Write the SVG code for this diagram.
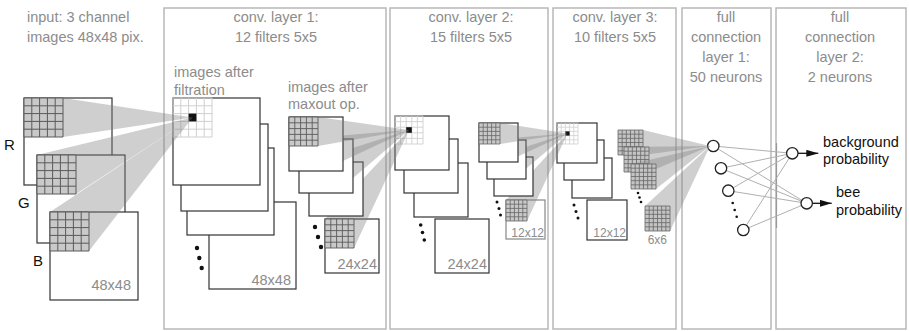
<svg xmlns="http://www.w3.org/2000/svg" width="909" height="331" viewBox="0 0 909 331">
<defs>
<style>
.box{fill:none;stroke:#b8b8b8;stroke-width:1.5}
.t{font-family:"Liberation Sans",Arial,sans-serif;font-size:14.5px;fill:#8c8c8c}
.m{text-anchor:middle}
.e{text-anchor:end}
.k{font-family:"Liberation Sans",Arial,sans-serif;font-size:14.5px;fill:#111}
.s{font-size:12px}
.sq{fill:#fff;stroke:#333;stroke-width:1.2}
.sq2{fill:#fff;stroke:#888;stroke-width:1.2}
.cone{fill:#808080;fill-opacity:.38}
.dot{fill:#111}
.neu{fill:#fff;stroke:#222;stroke-width:1.3}
.fc{stroke:#b0b0b0;stroke-width:1;fill:none}
.arr{stroke:#111;stroke-width:1.3;fill:none;marker-end:url(#ah)}
</style>
<marker id="ah" viewBox="0 0 12 7" refX="12" refY="3.5" markerWidth="12" markerHeight="7" markerUnits="userSpaceOnUse" orient="auto"><path d="M0 0L12 3.5L0 7z" fill="#111"/></marker>
<g id="gIn"><rect width="39" height="39" fill="#c9c9c9"/><path d="M0 0V39M7.8 0V39M15.6 0V39M23.4 0V39M31.2 0V39M39 0V39M0 0H39M0 7.8H39M0 15.6H39M0 23.4H39M0 31.2H39M0 39H39" stroke="#5a5a5a" stroke-width="1" fill="none"/></g>
<g id="gF39"><path d="M0 0V39M7.8 0V39M15.6 0V39M23.4 0V39M31.2 0V39M39 0V39M0 0H39M0 7.8H39M0 15.6H39M0 23.4H39M0 31.2H39M0 39H39" stroke="#cfcfcf" stroke-width="1" fill="none"/><rect x="15.6" y="15.6" width="7.8" height="7.8" fill="#111"/></g>
<g id="gM"><rect width="29" height="29" fill="#c9c9c9"/><path d="M0 0V29M5.8 0V29M11.6 0V29M17.4 0V29M23.2 0V29M29 0V29M0 0H29M0 5.8H29M0 11.6H29M0 17.4H29M0 23.2H29M0 29H29" stroke="#5a5a5a" stroke-width=".9" fill="none"/></g>
<g id="gF28"><path d="M0 0V28M5.6 0V28M11.2 0V28M16.8 0V28M22.4 0V28M28 0V28M0 0H28M0 5.6H28M0 11.2H28M0 16.8H28M0 22.4H28M0 28H28" stroke="#cfcfcf" stroke-width=".9" fill="none"/><rect x="11.2" y="11.2" width="5.6" height="5.6" fill="#111"/></g>
<g id="gS"><rect width="21" height="21" fill="#c9c9c9"/><path d="M0 0V21M4.2 0V21M8.4 0V21M12.6 0V21M16.8 0V21M21 0V21M0 0H21M0 4.2H21M0 8.4H21M0 12.6H21M0 16.8H21M0 21H21" stroke="#666" stroke-width=".8" fill="none"/></g>
<g id="gF21"><path d="M0 0V21M4.2 0V21M8.4 0V21M12.6 0V21M16.8 0V21M21 0V21M0 0H21M0 4.2H21M0 8.4H21M0 12.6H21M0 16.8H21M0 21H21" stroke="#cfcfcf" stroke-width=".8" fill="none"/><rect x="8.4" y="8.4" width="4.2" height="4.2" fill="#111"/></g>
<g id="gG"><rect width="25" height="25" fill="#c4c4c4"/><path d="M0 0V25M4.17 0V25M8.33 0V25M12.5 0V25M16.67 0V25M20.83 0V25M25 0V25M0 0H25M0 4.17H25M0 8.33H25M0 12.5H25M0 16.67H25M0 20.83H25M0 25H25" stroke="#666" stroke-width=".8" fill="none"/></g>
</defs>
<rect width="909" height="331" fill="#fff"/>

<g id="layers">
<rect class="box" x="164" y="8" width="222" height="321"/>
<rect class="box" x="390" y="8" width="158" height="321"/>
<rect class="box" x="553" y="8" width="123" height="321"/>
<rect class="box" x="682" y="8" width="89" height="321"/>
<rect class="box" x="776" y="8" width="130" height="321"/>
<path d="M776.5 143V228" stroke="#999" stroke-width="1.2"/>
<text class="t" x="27" y="21.5">input: 3 channel</text>
<text class="t" x="27" y="41.5">images 48x48 pix.</text>
<text class="t m" x="276" y="21.5">conv. layer 1:</text>
<text class="t m" x="276" y="41.5">12 filters 5x5</text>
<text class="t m" x="471" y="21.5">conv. layer 2:</text>
<text class="t m" x="471" y="41.5">15 filters 5x5</text>
<text class="t m" x="615" y="21.5">conv. layer 3:</text>
<text class="t m" x="615" y="41.5">10 filters 5x5</text>
<text class="t m" x="726" y="21.5">full</text>
<text class="t m" x="726" y="41.5">connection</text>
<text class="t m" x="726" y="61.5">layer 1:</text>
<text class="t m" x="726" y="82">50 neurons</text>
<text class="t m" x="840" y="21.5">full</text>
<text class="t m" x="840" y="41.5">connection</text>
<text class="t m" x="840" y="61.5">layer 2:</text>
<text class="t m" x="840" y="82">2 neurons</text>
</g>

<g id="connectors">
<path class="fc" d="M713.3 146L792.3 153.3M713.3 146L806.7 203.3M721 168.3L792.3 153.3M721 168.3L806.7 203.3M728.3 190.7L792.3 153.3M728.3 190.7L806.7 203.3M743.3 230L792.3 153.3M743.3 230L806.7 203.3"/>
<path class="arr" d="M798 153.3H818.3"/>
<path class="arr" d="M812.4 203.3H831.7"/>
</g>

<g id="fc1">
<circle class="neu" cx="713.3" cy="146" r="5.7"/>
<circle class="neu" cx="721" cy="168.3" r="5.7"/>
<circle class="neu" cx="728.3" cy="190.7" r="5.7"/>
<circle class="neu" cx="743.3" cy="230" r="5.7"/>
<circle class="dot" cx="732.7" cy="203" r="1.3"/>
<circle class="dot" cx="734.7" cy="210" r="1.3"/>
<circle class="dot" cx="736.7" cy="216.7" r="1.3"/>
</g>
<g id="fc2">
<circle class="neu" cx="792.3" cy="153.3" r="5.7"/>
<circle class="neu" cx="806.7" cy="203.3" r="5.7"/>
<text class="k" x="823" y="147">background</text>
<text class="k" x="823" y="164">probability</text>
<text class="k" x="836" y="197">bee</text>
<text class="k" x="836" y="215">probability</text>
</g>

<g id="conv3">
<rect class="sq" x="587" y="200" width="40" height="40"/>
<rect class="sq" x="572" y="158" width="40" height="40"/>
<rect class="sq" x="564" y="140" width="40" height="40"/>
<rect class="sq" x="557" y="123" width="40" height="40"/>
<use href="#gF21" x="557" y="123"/>
<circle class="dot" cx="574" cy="205" r="1.5"/>
<circle class="dot" cx="576" cy="211.5" r="1.5"/>
<circle class="dot" cx="578" cy="218" r="1.5"/>
<text class="t s e" x="626" y="237">12x12</text>
<polygon class="cone" points="643,130 710,146 643,155"/>
<use href="#gG" x="618" y="130"/>
<polygon class="cone" points="624,147 710,146 649,172"/>
<use href="#gG" x="624" y="147"/>
<polygon class="cone" points="631,164 710,146 656,189"/>
<use href="#gG" x="631" y="164"/>
<polygon class="cone" points="645,206 710,146 670,231"/>
<use href="#gG" x="645" y="206"/>
<circle class="dot" cx="638" cy="193" r="1.3"/>
<circle class="dot" cx="639.5" cy="197.5" r="1.3"/>
<circle class="dot" cx="641" cy="202" r="1.3"/>
<text class="t s e" x="667" y="244">6x6</text>
</g>

<g id="conv2">
<rect class="sq" x="435" y="219" width="54" height="54"/>
<rect class="sq" x="414" y="163" width="54" height="54"/>
<rect class="sq" x="404" y="139" width="54" height="54"/>
<rect class="sq" x="395" y="116" width="54" height="54"/>
<use href="#gF28" x="395" y="116"/>
<circle class="dot" cx="420.7" cy="225" r="1.8"/>
<circle class="dot" cx="422.5" cy="232.5" r="1.8"/>
<circle class="dot" cx="424.3" cy="240" r="1.8"/>
<text class="t e" x="487" y="269">24x24</text>
<rect class="sq2" x="506" y="200" width="39" height="39"/>
<polygon class="cone" points="506,200 567.5,133.5 527,221"/>
<use href="#gS" x="506" y="200"/>
<rect class="sq" x="494" y="157" width="39" height="39"/>
<polygon class="cone" points="494,157 567.5,133.5 515,178"/>
<use href="#gS" x="494" y="157"/>
<rect class="sq" x="487" y="140" width="39" height="39"/>
<polygon class="cone" points="487,140 567.5,133.5 508,161"/>
<use href="#gS" x="487" y="140"/>
<rect class="sq" x="479" y="123" width="39" height="39"/>
<polygon class="cone" points="500,123 567.5,133.5 500,144"/>
<use href="#gS" x="479" y="123"/>
<circle class="dot" cx="497" cy="202" r="1.5"/>
<circle class="dot" cx="499" cy="208.5" r="1.5"/>
<circle class="dot" cx="500.5" cy="215" r="1.5"/>
<text class="t s e" x="544" y="237">12x12</text>
</g>

<g id="conv1">
<rect class="sq" x="209" y="202" width="87" height="87"/>
<rect class="sq" x="187" y="148" width="87" height="87"/>
<rect class="sq" x="181" y="124" width="87" height="87"/>
<rect class="sq" x="173" y="98" width="87" height="87"/>
<use href="#gF39" x="173" y="98"/>
<circle class="dot" cx="197" cy="248" r="2.2"/>
<circle class="dot" cx="199.3" cy="258" r="2.2"/>
<circle class="dot" cx="201.7" cy="268" r="2.2"/>
<text class="t e" x="291" y="285">48x48</text>
<text class="t" x="174" y="77">images after</text>
<text class="t" x="174" y="95">filtration</text>
<text class="t" x="288" y="92">images after</text>
<text class="t" x="288" y="109">maxout op.</text>
<rect class="sq" x="325" y="219" width="54" height="54"/>
<polygon class="cone" points="325,219 409,130 354,248"/>
<use href="#gM" x="325" y="219"/>
<rect class="sq" x="309" y="162" width="54" height="54"/>
<polygon class="cone" points="309,162 409,130 338,191"/>
<use href="#gM" x="309" y="162"/>
<rect class="sq" x="299" y="139" width="54" height="54"/>
<polygon class="cone" points="299,139 409,130 328,168"/>
<use href="#gM" x="299" y="139"/>
<rect class="sq" x="289" y="117" width="54" height="54"/>
<polygon class="cone" points="318,117 409,130 318,146"/>
<use href="#gM" x="289" y="117"/>
<circle class="dot" cx="315" cy="227" r="2.2"/>
<circle class="dot" cx="318" cy="237" r="2.2"/>
<circle class="dot" cx="321" cy="247" r="2.2"/>
<text class="t e" x="377" y="269">24x24</text>
</g>

<g id="input">
<rect class="sq" x="24" y="98" width="88" height="87"/>
<polygon class="cone" points="63,98 192.5,117.5 63,137"/>
<use href="#gIn" x="24" y="98"/>
<rect class="sq" x="37" y="155" width="88" height="88"/>
<polygon class="cone" points="37,155 192.5,117.5 76,194"/>
<use href="#gIn" x="37" y="155"/>
<rect class="sq" x="50" y="212" width="88" height="88"/>
<polygon class="cone" points="50,212 192.5,117.5 89,251"/>
<use href="#gIn" x="50" y="212"/>
<text class="k" x="4" y="150" style="font-size:15px">R</text>
<text class="k" x="18" y="208" style="font-size:15px">G</text>
<text class="k" x="33" y="266" style="font-size:15px">B</text>
<text class="t e" x="131" y="290">48x48</text>
</g>
</svg>
